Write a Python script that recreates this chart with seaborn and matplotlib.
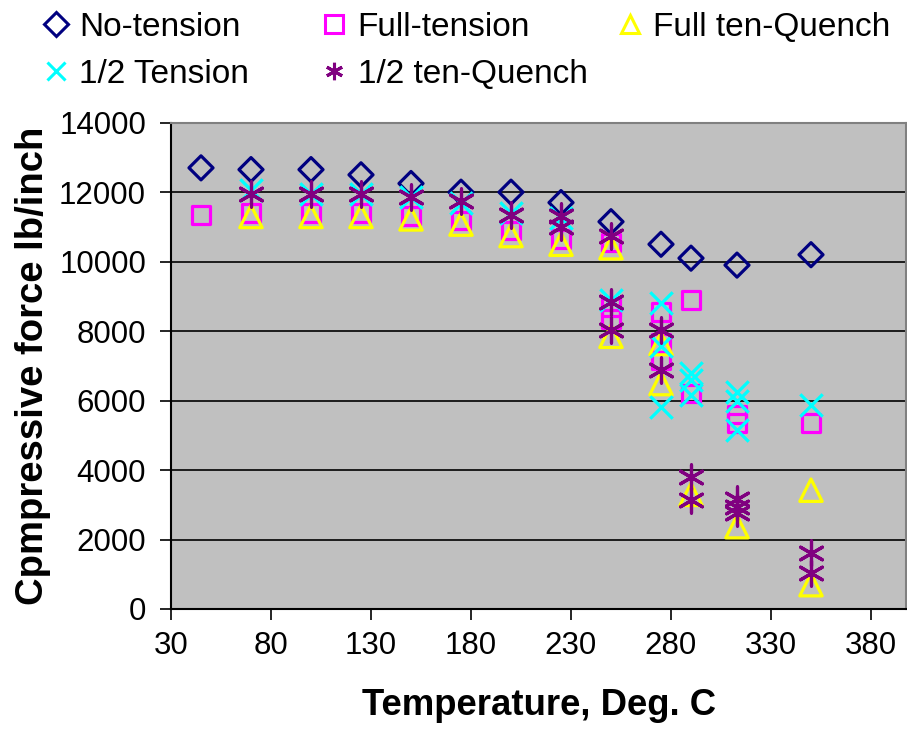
import numpy as np
import pandas as pd
import seaborn as sns
import matplotlib.pyplot as plt
from matplotlib.lines import Line2D

# values
no_tension_x = [45, 70, 100, 125, 150, 175, 200, 225, 250, 275, 290, 313, 350]
no_tension_y = [12700, 12650, 12650, 12500, 12250, 12000, 12000, 11700, 11150,
                10500, 10100, 9900, 10200]

full_tension_x = [45, 70, 100, 125, 150, 175, 200, 225, 250, 250, 250,
                  275, 275, 275, 290, 290, 313, 313, 350]
full_tension_y = [11350, 11400, 11400, 11400, 11320, 11180, 10900, 10650, 10550,
                  8700, 8350, 8550, 7650, 7150, 8900, 6200, 5600, 5350, 5350]

full_quench_x = [70, 100, 125, 150, 175, 200, 225, 250, 250, 275, 275,
                 290, 313, 350, 350]
full_quench_y = [11300, 11300, 11300, 11230, 11080, 10750, 10500, 10400, 7850,
                 7640, 6490, 3300, 2370, 3420, 700]

half_tension_x = [70, 100, 125, 150, 175, 200, 225, 250, 275, 275, 275,
                  290, 290, 290, 313, 313, 313, 350]
half_tension_y = [12050, 11950, 11950, 11850, 11700, 11400, 11250, 8900, 8800,
                  7560, 5810, 6800, 6600, 6150, 6250, 6000, 5150, 5860]

half_quench_x = [70, 100, 125, 150, 175, 200, 225, 225, 250, 250, 250,
                 275, 275, 290, 290, 313, 313, 313, 350, 350]
half_quench_y = [11950, 11950, 11950, 11850, 11750, 11350, 11300, 11000, 10750,
                 8830, 8020, 8020, 6870, 3800, 3130, 3180, 2940, 2760, 1600, 1030]

series = [
    ("No-tension", no_tension_x, no_tension_y, "D", "#000080", True, 150),
    ("Full-tension", full_tension_x, full_tension_y, "s", "#FF00FF", True, 160),
    ("Full ten-Quench", full_quench_x, full_quench_y, "^", "#FFFF00", True, 260),
    ("1/2 Tension", half_tension_x, half_tension_y, "x", "#00FFFF", False, 260),
    ("1/2 ten-Quench", half_quench_x, half_quench_y, (6, 2, 0), "#800080", False, 330),
]

sns.set_style("white")
plt.rcParams['font.family'] = ['Liberation Sans', 'DejaVu Sans']
plt.rcParams['text.color'] = 'black'
plt.rcParams['axes.labelcolor'] = 'black'
plt.rcParams['xtick.color'] = 'black'
plt.rcParams['ytick.color'] = 'black'

fig = plt.figure(figsize=(9.07, 7.31), dpi=100)
ax = fig.add_axes([171 / 907, 1 - 609 / 731, (906 - 171) / 907, (609 - 122.7) / 731])
ax.set_facecolor("#C0C0C0")

handles = []
for name, xs, ys, mk, col, filled, size in series:
    df = pd.DataFrame({"temp": xs, "force": ys})
    if filled:
        sns.scatterplot(data=df, x="temp", y="force", ax=ax, marker=mk, s=size,
                        facecolors="none", edgecolor=col, linewidth=2.3, zorder=3)
    else:
        sns.scatterplot(data=df, x="temp", y="force", ax=ax, marker=mk, s=size,
                        color=col, linewidth=2.3, zorder=3)
    handles.append(Line2D([], [], linestyle="none", marker=mk, markersize=12.5,
                          markerfacecolor="none", markeredgecolor=col,
                          markeredgewidth=2.2, color=col, label=name))

ax.set_xlim(30, 397.5)
ax.set_ylim(0, 14000)
ax.set_xticks(np.arange(30, 381, 50))
ax.set_yticks(np.arange(0, 14001, 2000))
ax.grid(axis="y", color="black", linewidth=1.2)
ax.grid(axis="x", visible=False)
ax.set_axisbelow(True)

for side in ["top", "right"]:
    ax.spines[side].set_color("#808080")
    ax.spines[side].set_linewidth(1.5)
for side in ["left", "bottom"]:
    ax.spines[side].set_color("black")
    ax.spines[side].set_linewidth(1.5)

ax.tick_params(axis="both", direction="out", length=8, width=1.2, color="black",
               labelsize=22.5, left=True, bottom=True)
ax.tick_params(axis="y", pad=10)
ax.tick_params(axis="x", pad=8)

ax.set_xlabel("Temperature, Deg. C", fontsize=26.3, fontweight="bold", labelpad=19)
ax.set_ylabel("Cpmpressive force lb/inch", fontsize=27.5, fontweight="bold", labelpad=6)

# legend: first two columns together, third column on its own (uneven spacing)
leg_kw = dict(loc="upper left", frameon=False, fontsize=24, handlelength=0.6,
              handletextpad=0.4, labelspacing=0.49)
order = [0, 3, 1, 4]
leg1 = fig.legend([handles[i] for i in order], [handles[i].get_label() for i in order],
                  ncol=2, columnspacing=2.25, bbox_to_anchor=(0.0176, 1.025), **leg_kw)
fig.legend([handles[2]], [handles[2].get_label()], ncol=1,
           bbox_to_anchor=(0.6505, 1.025), **leg_kw)

fig.savefig("out.png", dpi=100)
